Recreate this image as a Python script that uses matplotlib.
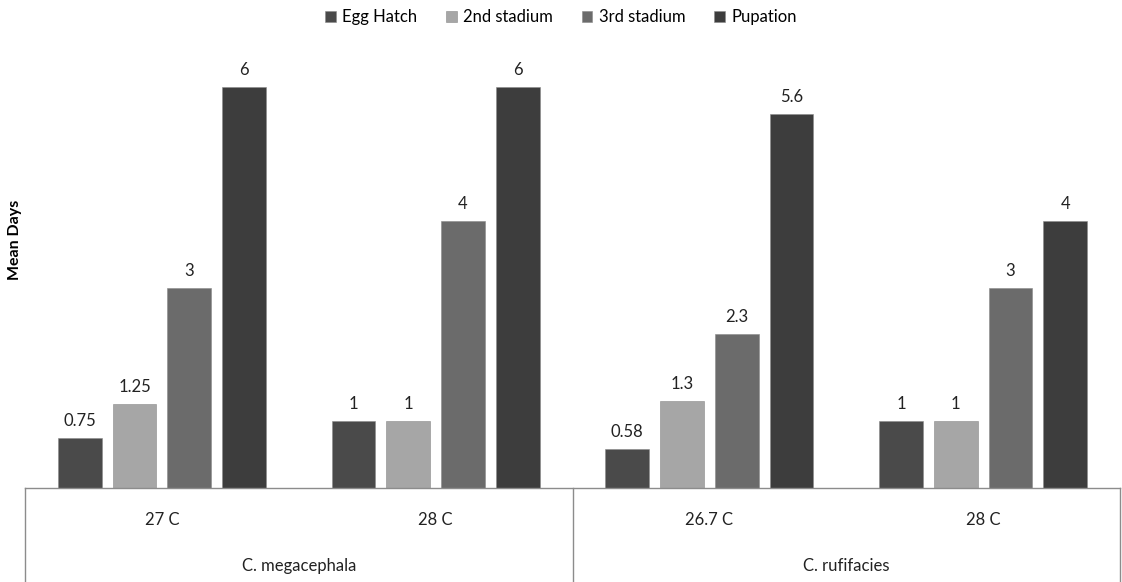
import matplotlib.pyplot as plt
import numpy as np

plt.rcParams['font.family'] = ['Lato', 'DejaVu Sans']

# data
conditions = ['27 C', '28 C', '26.7 C', '28 C']
species = ['C. megacephala', 'C. rufifacies']
stages = ['Egg Hatch', '2nd stadium', '3rd stadium', 'Pupation']
egg_hatch = [0.75, 1, 0.58, 1]
stadium_2 = [1.25, 1, 1.3, 1]
stadium_3 = [3, 4, 2.3, 3]
pupation = [6, 6, 5.6, 4]
value_text = [['0.75', '1', '0.58', '1'],
              ['1.25', '1', '1.3', '1'],
              ['3', '4', '2.3', '3'],
              ['6', '6', '5.6', '4']]

colors = ['#4a4a4a', '#a6a6a6', '#6b6b6b', '#3d3d3d']
W, H = 1122, 582

fig = plt.figure(figsize=(W / 100, H / 100), dpi=100)
# axes: left 25px, right 1120px, baseline 488px, top 47px
ax = fig.add_axes([25 / W, (H - 488) / H, (1120 - 25) / W, (488 - 47) / H])

x = np.arange(len(conditions))
step, width = 0.2, 0.16
series = [egg_hatch, stadium_2, stadium_3, pupation]
for i, vals in enumerate(series):
    pos = x + (i - 1.5) * step
    ax.bar(pos, vals, width, color=colors[i], label=stages[i],
           edgecolor='#8a8a8a', linewidth=0.4)
    for p, v, t in zip(pos, vals, value_text[i]):
        ax.annotate(t, (p, v), xytext=(0, 9), textcoords='offset pixels',
                    ha='center', va='bottom', fontsize=12, color='#222222')

ax.set_xlim(-0.5, len(conditions) - 0.5)
ax.set_ylim(0, 6.6)
ax.set_yticks([])
ax.set_xticks([])
for s in ['top', 'left', 'right']:
    ax.spines[s].set_visible(False)
ax.spines['bottom'].set_color('#8c8c8c')
ax.spines['bottom'].set_linewidth(1)

# table-like category axis below the bars
depth = (H - 488) / (488 - 47)
for xv in [-0.5, 1.5, 3.5]:
    ax.plot([xv, xv], [0, -depth], transform=ax.get_xaxis_transform(),
            color='#8c8c8c', lw=1, clip_on=False)
for xi, c in zip(x, conditions):
    ax.annotate(c, (xi, 0), xycoords=('data', 'axes fraction'),
                xytext=(0, -32), textcoords='offset pixels',
                ha='center', va='center', fontsize=12, color='#222222')
for k, sp in enumerate(species):
    ax.annotate(sp, (2 * k + 0.5, 0), xycoords=('data', 'axes fraction'),
                xytext=(0, -78), textcoords='offset pixels',
                ha='center', va='center', fontsize=12, color='#222222')

fig.text(15 / W, 1 - 240 / H, 'Mean Days', rotation=90, ha='center',
         va='center', fontsize=11.5, fontweight='bold')

ax.legend(loc='center', bbox_to_anchor=(0.5, 1 - 17 / H),
          bbox_transform=fig.transFigure, ncol=4, frameon=False,
          fontsize=12, handlelength=0.65, handleheight=0.65,
          handletextpad=0.4, columnspacing=1.7)

fig.savefig('out.png', dpi=100)
